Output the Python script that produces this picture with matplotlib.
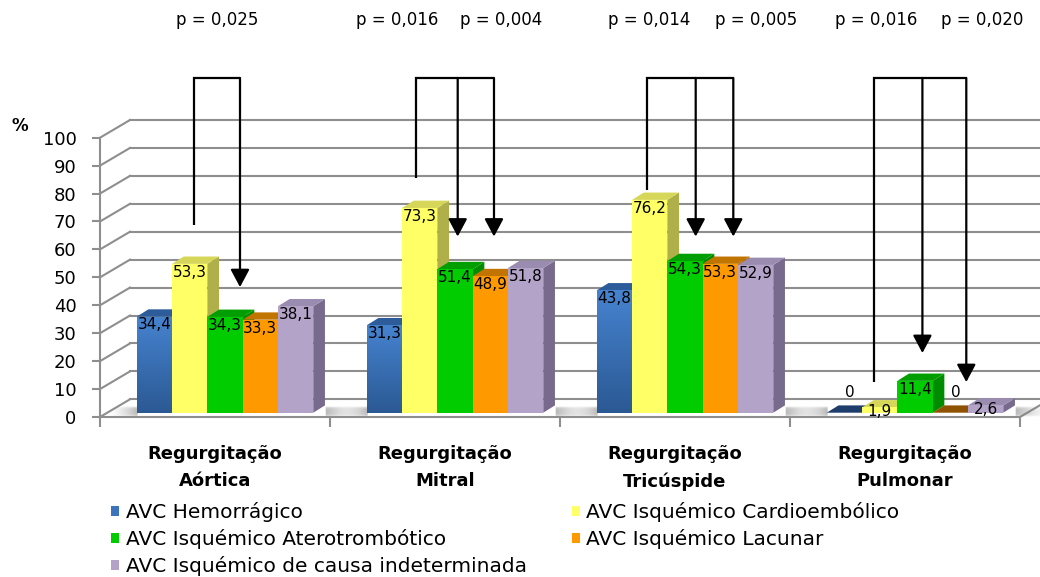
import numpy as np
import matplotlib
matplotlib.use("Agg")
import matplotlib.pyplot as plt
from matplotlib.patches import Polygon, Patch

# ---------------- data ----------------
categories = ["Regurgitação\nAórtica", "Regurgitação\nMitral",
              "Regurgitação\nTricúspide", "Regurgitação\nPulmonar"]
series_names = ["AVC Hemorrágico", "AVC Isquémico Cardioembólico",
                "AVC Isquémico Aterotrombótico", "AVC Isquémico Lacunar",
                "AVC Isquémico de causa indeterminada"]
hemorragico = [34.4, 31.3, 43.8, 0]
cardioembolico = [53.3, 73.3, 76.2, 1.9]
aterotrombotico = [34.3, 51.4, 54.3, 11.4]
lacunar = [33.3, 48.9, 53.3, 0]
indeterminada = [38.1, 51.8, 52.9, 2.6]
y_ticks = [0, 10, 20, 30, 40, 50, 60, 70, 80, 90, 100]

# significance annotations (category-axis units / value units)
p_labels = ["p = 0,025", "p = 0,016", "p = 0,004", "p = 0,014",
            "p = 0,005", "p = 0,016", "p = 0,020"]
p_label_x = [0.509, 1.291, 1.743, 2.387, 2.852, 3.374, 3.835]
p_label_y = 142.1
bracket_top = 121.4
bracket_left_x = [0.4087, 1.3739, 2.3770, 3.3652]
bracket_left_end = [68.7, 85.6, 81.3, 12.5]
arrow_x = [[0.6087], [1.5552, 1.7130], [2.5900, 2.7535], [3.5757, 3.7665]]
arrow_tip = [[46.5], [64.6, 64.6], [64.6, 64.6], [22.9, 12.5]]

series_values = [hemorragico, cardioembolico, aterotrombotico, lacunar, indeterminada]
front_colors = ["#3b74bd", "#ffff66", "#00cc00", "#ff9900", "#b3a3c8"]
top_colors = ["#2d5c9a", "#d6d658", "#009e00", "#c27400", "#9a8cb0"]
side_colors = ["#24497a", "#b0b04a", "#008c00", "#b36b00", "#776a8c"]
zero_top_colors = ["#1f3d6b", "#b0b04a", "#008c00", "#8f5200", "#8a7ca0"]

# ---------------- figure ----------------
W_PX, H_PX = 1040, 577
fig = plt.figure(figsize=(W_PX / 100, H_PX / 100), dpi=100)
ax = fig.add_axes([100 / W_PX, (H_PX - 417) / H_PX, 920 / W_PX, 279.3 / H_PX])
ax.set_xlim(0, 4)
ax.set_ylim(0, 100)

PXX = 4 / 920.0
PXY = 100 / 279.3
DX, DY = 30 * PXX, 17.7 * PXY           # wall depth
BW = 35.3 * PXX                         # bar width
SX, SY = 10 * PXX, 4.3 * PXY            # bar front shift
BDX, BDY = 11.7 * PXX, 7.3 * PXY        # bar depth
grid_col = "#8e8e8e"

# walls / gridlines
for v in y_ticks:
    ax.plot([0, DX], [v, v + DY], color=grid_col, lw=1.5, clip_on=False, zorder=1)
    ax.plot([DX, 4 + DX], [v + DY, v + DY], color=grid_col, lw=1.5, clip_on=False, zorder=1)
ax.plot([4, 4 + DX], [0, DY], color=grid_col, lw=1.5, clip_on=False, zorder=1)

# floor shadows
for c in range(len(categories)):
    gl = c + 0.5 - 2.5 * BW + SX
    gr = gl + 5 * BW + BDX
    n = 300
    xs = np.linspace(gl - 28 * PXX, gr + 36 * PXX, n)
    alpha = np.zeros(n)
    left = xs < gl
    right = xs > gr
    alpha[left] = 0.55 * ((xs[left] - xs[0]) / (gl - xs[0])) ** 1.4
    alpha[right] = 0.55 * ((xs[-1] - xs[right]) / (xs[-1] - gr)) ** 1.4
    ny = 20
    vy = np.linspace(-1, 1, ny)
    vprof = np.clip(1 - vy ** 4, 0, 1)
    img = np.zeros((ny, n, 4))
    img[..., :3] = 0.5
    img[..., 3] = vprof[:, None] * alpha[None, :]
    ax.imshow(img, extent=[xs[0], xs[-1], SY - 1.5, SY + BDY * 0.9],
              aspect="auto", zorder=2, clip_on=False, interpolation="bilinear")

# 3D bars
for c in range(len(categories)):
    for i, vals in enumerate(series_values):
        h = vals[c]
        x0 = c + 0.5 - 2.5 * BW + i * BW + SX
        b = SY
        z = 3 + c + i * 0.1
        side = Polygon([(x0 + BW, b), (x0 + BW + BDX, b + BDY),
                        (x0 + BW + BDX, b + h + BDY), (x0 + BW, b + h)],
                       closed=True, fc=side_colors[i], ec="none", zorder=z, clip_on=False)
        ax.add_patch(side)
        tc = top_colors[i] if h > 0 else zero_top_colors[i]
        top = Polygon([(x0, b + h), (x0 + BDX, b + h + BDY),
                       (x0 + BW + BDX, b + h + BDY), (x0 + BW, b + h)],
                      closed=True, fc=tc, ec="none", zorder=z + 0.01, clip_on=False)
        ax.add_patch(top)
        bars = ax.bar(x0, h, width=BW, bottom=b, align="edge",
                      color=front_colors[i], edgecolor="none", zorder=z + 0.02)
        if i == 0 and h > 0:
            grad = np.linspace(0, 1, 100).reshape(-1, 1)
            cmap = matplotlib.colors.LinearSegmentedColormap.from_list(
                "bl", ["#2b5994", "#4683cf"])
            im = ax.imshow(grad, extent=[x0, x0 + BW, b, b + h], origin="lower",
                           cmap=cmap, aspect="auto", zorder=z + 0.03)
            im.set_clip_path(bars.patches[0])
        lab = ("%.1f" % h).replace(".", ",") if h > 0 else "0"
        if h > 0:
            ax.text(x0 + BW / 2, b + h + (1.2 if h < 5 else -0.3), lab,
                    ha="center", va="top", fontsize=11, color="black", zorder=20)
        else:
            ax.text(x0 + BW / 2 + BDX / 2, b + BDY + 2.0, lab, ha="center",
                    va="bottom", fontsize=11, color="black", zorder=20)

ax.set_xlim(0, 4)
ax.set_ylim(0, 100)

# axes styling
for s in ["top", "right"]:
    ax.spines[s].set_visible(False)
for s in ["left", "bottom"]:
    ax.spines[s].set_color(grid_col)
    ax.spines[s].set_linewidth(1.5)
ax.set_yticks(y_ticks)
ax.set_yticklabels([str(v) for v in y_ticks], fontsize=13)
ax.tick_params(axis="y", length=6, width=1.5, color=grid_col, pad=11)
ax.set_xticks(range(len(categories) + 1))
ax.set_xticklabels([])
ax.tick_params(axis="x", which="major", length=7, width=1.5, color=grid_col)
ax.set_xticks([c + 0.5 for c in range(len(categories))], minor=True)
ax.set_xticklabels(categories, minor=True, fontsize=13, fontweight="bold",
                   linespacing=1.6)
ax.tick_params(axis="x", which="minor", length=0, pad=20.5)
ax.patch.set_visible(False)

fig.text(12 / W_PX, 1 - 126 / H_PX, "%", fontsize=12, fontweight="bold",
         ha="left", va="center")

# significance brackets
for k in range(len(bracket_left_x)):
    xl = bracket_left_x[k]
    xr = max(arrow_x[k])
    ax.plot([xl, xl, xr], [bracket_left_end[k], bracket_top, bracket_top],
            color="black", lw=1.6, clip_on=False, zorder=30,
            solid_joinstyle="miter", solid_capstyle="butt")
    for xa, tip in zip(arrow_x[k], arrow_tip[k]):
        ax.annotate("", xy=(xa, tip), xytext=(xa, bracket_top),
                    arrowprops=dict(arrowstyle="-|>,head_length=0.9,head_width=0.48",
                                    mutation_scale=12, color="black", lw=1.6,
                                    shrinkA=0, shrinkB=0),
                    annotation_clip=False, zorder=30)
for x, t in zip(p_label_x, p_labels):
    ax.text(x, p_label_y, t, ha="center", va="center", fontsize=12, zorder=30,
            clip_on=False)

# legend (row-major order)
handles = [Patch(fc=col, ec="none") for col in front_colors]
order = [0, 2, 4, 1, 3]
fig.legend([handles[j] for j in order], [series_names[j] for j in order],
           ncol=2, loc="upper left", bbox_to_anchor=(111 / W_PX, 1 - 502 / H_PX),
           frameon=False, fontsize=14.5, handlelength=0.42, handleheight=0.42,
           handletextpad=0.3, columnspacing=2.25, labelspacing=0.35,
           borderpad=0, borderaxespad=0)

fig.savefig("out.png", dpi=100)
